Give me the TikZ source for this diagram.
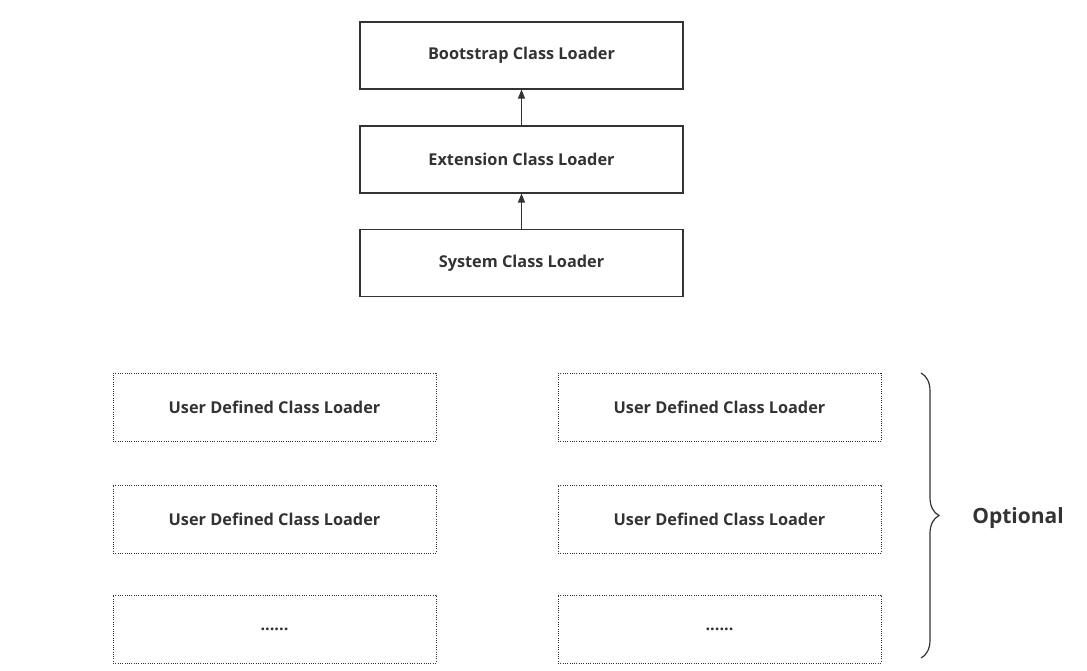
\documentclass[tikz,border=0pt]{standalone}
\usepackage{fontspec}
\setmainfont{Open Sans}
\usetikzlibrary{arrows.meta,decorations.pathreplacing}
\definecolor{ink}{HTML}{333333}
\begin{document}
\begin{tikzpicture}[x=1pt,y=-1pt,
  solidbox/.style={draw=ink,line width=1.1pt,minimum width=323pt,minimum height=67pt,inner sep=0pt,text=ink,font=\bfseries\fontsize{16.3}{18}\selectfont},
  dotbox/.style={draw=ink,line width=1pt,dash pattern=on 1pt off 1.3pt,minimum width=323pt,minimum height=68pt,inner sep=0pt,text=ink,font=\bfseries\fontsize{16.3}{18}\selectfont},
  uparrow/.style={draw=ink,line width=1.1pt,-{Triangle[length=9pt,width=7pt]}}]
\useasboundingbox (0,0) rectangle (1087,671);
\node[solidbox] (boot) at (521.5,55.5) {Bootstrap Class Loader};
\node[solidbox] (ext) at (521.5,159.5) {Extension Class Loader};
\node[solidbox] (sys) at (521.5,263) {System Class Loader};
\draw[uparrow] (ext) -- (boot);
\draw[uparrow] (sys) -- (ext);
\node[dotbox] (l1) at (274.5,407.5) {User Defined Class Loader};
\node[dotbox] (l2) at (274.5,519) {User Defined Class Loader};
\node[dotbox] (l3) at (274.5,629) {......};
\node[dotbox] (r1) at (719.5,407.5) {User Defined Class Loader};
\node[dotbox] (r2) at (719.5,519) {User Defined Class Loader};
\node[dotbox] (r3) at (719.5,629) {......};
\coordinate (btop) at (921,373);
\coordinate (bbot) at (921,658);
\draw[ink,line width=1.2pt,decorate,decoration={brace,amplitude=18pt,aspect=0.5}] (btop) -- (bbot);
\node[text=ink,font=\bfseries\fontsize{21}{24}\selectfont] (opt) at (1018,518) {Optional};
\end{tikzpicture}
\end{document}
